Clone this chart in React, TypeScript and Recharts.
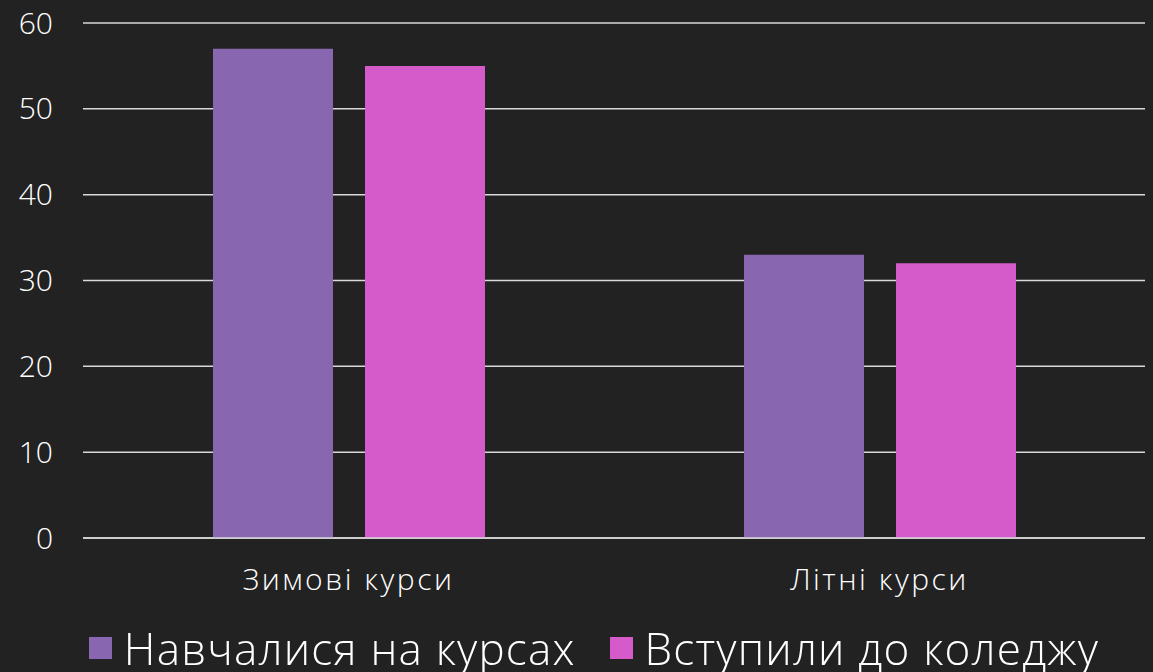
import React from "react";
import { BarChart, Bar, XAxis, YAxis, CartesianGrid, Legend } from "recharts";

const categories = ["Зимові курси", "Літні курси"];
const studied = [57, 33];
const enrolled = [55, 32];
const yTicks = [0, 10, 20, 30, 40, 50, 60];
const seriesNames = ["Навчалися на курсах", "Вступили до коледжу"];
const seriesColors = ["#8866b0", "#d55aca"];

const data = categories.map((c, i) => ({ name: c, a: studied[i], b: enrolled[i] }));

const FONT = "'Open Sans', 'DejaVu Sans', sans-serif";

const LegendContent = () => (
  <div
    style={{
      height: 74,
      display: "flex",
      justifyContent: "center",
      alignItems: "center",
      paddingTop: 26,
      paddingLeft: 43,
      boxSizing: "border-box",
      fontFamily: FONT,
      fontWeight: 300,
      fontSize: 44,
      letterSpacing: 1.2,
      color: "#ffffff",
      lineHeight: 1,
    }}
  >
    {seriesNames.map((n, i) => (
      <div key={n} style={{ display: "flex", alignItems: "center", marginRight: i === 0 ? 34 : 0 }}>
        <div style={{ width: 23, height: 22, background: seriesColors[i], marginRight: 12 }} />
        <span>{n}</span>
      </div>
    ))}
  </div>
);

export default function App() {
  return (
    <div style={{ position: "fixed", left: 0, top: 0, width: 1153, height: 672, background: "#222222" }}>
      <BarChart
        width={1153}
        height={672}
        data={data}
        margin={{ top: 23, right: 8, bottom: 0, left: 0 }}
        barGap={32}
        barSize={120}
      >
        <CartesianGrid vertical={false} stroke="#d9d9d9" strokeWidth={1.5} />
        <XAxis
          dataKey="name"
          height={60}
          axisLine={{ stroke: "#d9d9d9", strokeWidth: 1.5 }}
          tickLine={false}
          tickMargin={25}
          tick={{ fill: "#ffffff", fontSize: 30, fontWeight: 300, fontFamily: FONT, letterSpacing: 2.5 }}
        />
        <YAxis
          width={83}
          domain={[0, 60]}
          ticks={yTicks}
          axisLine={false}
          tickLine={false}
          tickMargin={24}
          tick={{ fill: "#ffffff", fontSize: 30, fontWeight: 300, fontFamily: FONT }}
        />
        <Legend verticalAlign="bottom" content={<LegendContent />} />
        <Bar dataKey="a" name={seriesNames[0]} fill={seriesColors[0]} isAnimationActive={false} />
        <Bar dataKey="b" name={seriesNames[1]} fill={seriesColors[1]} isAnimationActive={false} />
      </BarChart>
    </div>
  );
}
